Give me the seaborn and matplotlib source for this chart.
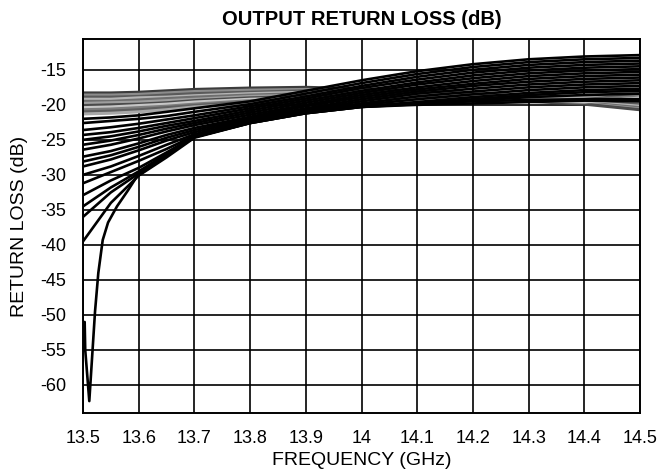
import matplotlib
matplotlib.use("Agg")
import matplotlib.pyplot as plt
import seaborn as sns
import pandas as pd

# ---------------- data ----------------
freq = [13.5, 13.55, 13.6, 13.65, 13.7, 13.8, 13.9, 14.0, 14.1, 14.2, 14.3, 14.4, 14.5]

gray_01 = [-18.3, -18.3, -18.2, -18.0, -17.8, -17.6, -17.5, -17.7, -18.0, -18.4, -18.8, -19.2, -19.6]
gray_02 = [-18.6, -18.6, -18.5, -18.3, -18.1, -17.9, -17.8, -17.9, -18.2, -18.5, -18.9, -19.3, -19.8]
gray_03 = [-18.9, -18.9, -18.8, -18.6, -18.4, -18.2, -18.0, -18.1, -18.3, -18.6, -19.0, -19.4, -20.0]
gray_04 = [-19.2, -19.2, -19.0, -18.9, -18.7, -18.4, -18.2, -18.3, -18.5, -18.8, -19.2, -19.6, -20.2]
gray_05 = [-19.5, -19.5, -19.3, -19.1, -18.9, -18.6, -18.4, -18.4, -18.6, -18.9, -19.3, -19.7, -20.4]
gray_06 = [-19.8, -19.7, -19.6, -19.4, -19.2, -18.8, -18.6, -18.6, -18.7, -19.0, -19.4, -19.8, -20.6]
gray_07 = [-20.1, -20.0, -19.9, -19.7, -19.4, -19.0, -18.8, -18.8, -18.9, -19.1, -19.5, -19.9, -20.7]
gray_08 = [-20.4, -20.3, -20.1, -19.9, -19.6, -19.2, -19.0, -18.9, -19.0, -19.2, -19.4, -19.6, -19.0]
gray_09 = [-20.7, -20.6, -20.4, -20.2, -19.9, -19.4, -19.2, -19.1, -19.1, -19.2, -19.3, -19.2, -18.6]
gray_10 = [-21.0, -20.9, -20.7, -20.4, -20.1, -19.6, -19.4, -19.2, -19.2, -19.2, -19.2, -19.0, -18.3]
gray_11 = [-21.3, -21.2, -21.0, -20.7, -20.3, -19.8, -19.5, -19.3, -19.3, -19.3, -19.1, -18.8, -18.1]

black_01 = [-22.0, -21.8, -21.5, -21.0, -20.5, -19.5, -18.0, -16.5, -15.2, -14.2, -13.5, -13.1, -12.9]
black_02 = [-22.6, -22.3, -22.0, -21.6, -21.0, -19.9, -18.4, -16.9, -15.6, -14.6, -13.9, -13.5, -13.3]
black_03 = [-23.6, -23.2, -22.7, -22.1, -21.5, -20.2, -18.8, -17.3, -16.0, -15.0, -14.3, -13.9, -13.7]
black_04 = [-24.3, -23.9, -23.3, -22.6, -21.9, -20.5, -19.1, -17.6, -16.4, -15.4, -14.7, -14.3, -14.1]
black_05 = [-25.0, -24.5, -23.8, -23.0, -22.3, -20.8, -19.4, -18.0, -16.8, -15.8, -15.1, -14.7, -14.5]
black_06 = [-25.7, -25.1, -24.3, -23.4, -22.6, -21.1, -19.7, -18.3, -17.1, -16.2, -15.5, -15.1, -14.9]
black_07 = [-26.4, -25.7, -24.8, -23.8, -22.9, -21.4, -20.0, -18.6, -17.5, -16.6, -15.9, -15.5, -15.3]
black_08 = [-27.4, -26.6, -25.5, -24.3, -23.3, -21.7, -20.2, -18.9, -17.8, -17.0, -16.3, -15.9, -15.7]
black_09 = [-28.1, -27.2, -26.0, -24.7, -23.6, -21.9, -20.5, -19.2, -18.1, -17.3, -16.7, -16.3, -16.1]
black_10 = [-28.8, -27.8, -26.5, -25.1, -23.9, -22.1, -20.7, -19.5, -18.4, -17.7, -17.1, -16.7, -16.5]
black_11 = [-30.0, -28.8, -27.3, -25.7, -24.2, -22.3, -20.9, -19.8, -18.8, -18.1, -17.5, -17.1, -16.9]
black_12 = [-31.2, -29.6, -28.0, -26.3, -24.4, -22.4, -21.0, -20.0, -19.2, -18.5, -17.9, -17.5, -17.3]
black_13 = [-32.9, -30.8, -29.0, -26.8, -24.5, -22.5, -21.1, -20.2, -19.6, -18.9, -18.3, -17.9, -17.7]
black_14 = [-34.5, -31.8, -29.5, -27.0, -24.6, -22.6, -21.2, -20.3, -19.8, -19.2, -18.6, -18.2, -18.0]
black_15 = [-36.0, -32.5, -29.8, -27.2, -24.6, -22.6, -21.2, -20.3, -19.9, -19.4, -18.9, -18.6, -18.4]
black_16 = [-39.5, -34.0, -30.1, -27.5, -24.7, -22.6, -21.2, -20.3, -20.0, -19.8, -19.6, -19.4, -19.5]

dip_freq = [13.503, 13.504, 13.5113, 13.5216, 13.5275, 13.5354, 13.545, 13.561, 13.58, 13.597,
            13.65, 13.7, 13.8, 13.9, 14.0, 14.1, 14.2, 14.3, 14.4, 14.5]
dip_loss = [-51.0, -55.0, -62.3, -49.5, -44.0, -39.3, -36.8, -34.5, -32.3, -30.2,
            -27.3, -24.6, -22.5, -21.1, -20.2, -19.8, -19.5, -19.3, -19.2, -19.2]

y_ticks = [-60, -55, -50, -45, -40, -35, -30, -25, -20, -15]
x_ticks = [13.5, 13.6, 13.7, 13.8, 13.9, 14.0, 14.1, 14.2, 14.3, 14.4, 14.5]
x_labels = ["13.5", "13.6", "13.7", "13.8", "13.9", "14", "14.1", "14.2", "14.3", "14.4", "14.5"]

gray_shades = ["#3c3c3c", "#8c8c8c", "#5a5a5a", "#b4b4b4", "#6e6e6e", "#9e9e9e",
               "#4a4a4a", "#c6c6c6", "#7c7c7c", "#5e5e5e", "#a8a8a8"]

# ---------------- build tables ----------------
gray_list = [gray_01, gray_02, gray_03, gray_04, gray_05, gray_06, gray_07, gray_08,
             gray_09, gray_10, gray_11]
black_list = [black_01, black_02, black_03, black_04, black_05, black_06, black_07, black_08,
              black_09, black_10, black_11, black_12, black_13, black_14, black_15, black_16]

rows = []
for i, c in enumerate(gray_list):
    for f, v in zip(freq, c):
        rows.append({"curve": f"g{i:02d}", "freq": f, "rl": v})
df_gray = pd.DataFrame(rows)

rows = []
for i, c in enumerate(black_list):
    for f, v in zip(freq, c):
        rows.append({"curve": f"b{i:02d}", "freq": f, "rl": v})
for f, v in zip(dip_freq, dip_loss):
    rows.append({"curve": "dip", "freq": f, "rl": v})
df_black = pd.DataFrame(rows)

# ---------------- plot ----------------
sns.set_theme(style="white")
plt.rcParams["font.family"] = ["Liberation Sans", "DejaVu Sans"]

fig = plt.figure(figsize=(6.6, 4.71), dpi=100)
ax = fig.add_axes([83 / 660, 1 - 413 / 471, 557 / 660, 374 / 471])

sns.lineplot(data=df_gray, x="freq", y="rl", hue="curve", palette=gray_shades,
             estimator=None, sort=False, legend=False, linewidth=2.2, ax=ax)
sns.lineplot(data=df_black, x="freq", y="rl", units="curve", color="black",
             estimator=None, sort=False, legend=False, linewidth=1.9, ax=ax)

ax.set_xlim(13.5, 14.5)
ax.set_ylim(-64, -10.6)
ax.set_xticks(x_ticks)
ax.set_xticklabels(x_labels)
ax.set_yticks(y_ticks)
ax.set_yticklabels([str(t) for t in y_ticks])
ax.grid(True, color="black", linewidth=1.2)
ax.set_axisbelow(True)
for s in ax.spines.values():
    s.set_visible(True)
    s.set_color("black")
    s.set_linewidth(1.4)
ax.tick_params(axis="both", length=0, labelsize=13, colors="black")
ax.tick_params(axis="x", pad=12)
ax.tick_params(axis="y", pad=12)

ax.set_xlabel("FREQUENCY (GHz)", fontsize=14, color="black", labelpad=4)
ax.set_ylabel("RETURN LOSS (dB)", fontsize=14, color="black", labelpad=9)
ax.set_title("OUTPUT RETURN LOSS (dB)", fontsize=14.5, fontweight="bold", color="black", pad=10)

fig.savefig("out.png", dpi=100)
